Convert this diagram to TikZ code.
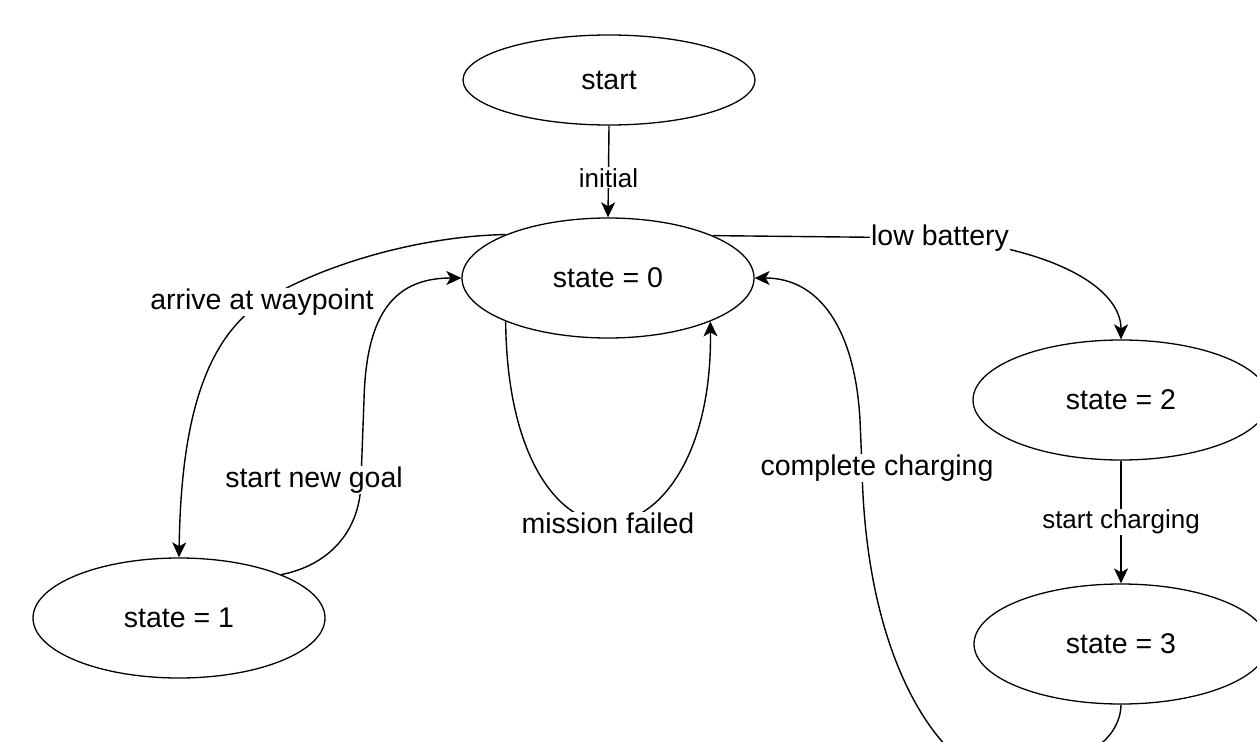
\documentclass[tikz,border=0pt]{standalone}
\usepackage{fontspec}
\setmainfont{Liberation Sans}
\usetikzlibrary{shapes.geometric,arrows.meta}
\tikzset{
  stnode/.style={draw, ellipse, line width=1.3pt, inner sep=0pt, minimum width=292pt, minimum height=120pt, font=\fontsize{28.5}{34}\selectfont},
  edge/.style={line width=1.4pt, -{Stealth[length=15pt,width=14pt,inset=4pt]}},
  lbl/.style={fill=white, inner sep=1pt, font=\fontsize{28.5}{34}\selectfont},
  slbl/.style={fill=white, inner sep=1pt, font=\fontsize{26}{30}\selectfont}
}
\begin{document}
\begin{tikzpicture}[x=1pt,y=-1pt]
\useasboundingbox (0,0) rectangle (1257,741);
\clip (0,0) rectangle (1257,741);
\fill[white] (0,0) rectangle (1257,741);

\node[stnode, minimum width=292pt, minimum height=90pt] (start) at (609,80) {start};
\node[stnode] (s0) at (608,278) {state = 0};
\node[stnode] (s1) at (179,618) {state = 1};
\node[stnode, minimum width=296pt] (s2) at (1121,400) {state = 2};
\node[stnode, minimum width=294pt] (s3) at (1121,644) {state = 3};

% initial
\draw[edge] (start.south) -- node[slbl, pos=0.57] {initial} (s0.north);

% arrive at waypoint
\draw[edge] (s0.157.8) .. controls (420,236) and (320,265) .. (262,302)
  node[lbl] {arrive at waypoint}
  .. controls (205,340) and (181,420) .. (s1.north);

% start new goal
\draw[edge] (s1.23.4) .. controls (330,565) and (361,530) .. (361,480)
  -- (364,400) .. controls (366,320) and (390,278) .. (s0.west);
\node[lbl] (lgoal) at (314,480) {start new goal};

% mission failed
\draw[edge] (s0.203.5) .. controls (507,460) and (560,523) .. (608,523)
  node[lbl] {mission failed}
  .. controls (656,523) and (712,460) .. (s0.337.1);

% low battery
\draw[edge] (s0.22.9) -- (940,238) node[lbl] {low battery}
  .. controls (1060,250) and (1121,290) .. (s2.north);

% start charging
\draw[edge] (s2.south) -- node[slbl, pos=0.5] {start charging} (s3.north);

% complete charging
\draw[edge] (s3.south) .. controls (1120,770) and (990,790) .. (950,750)
  .. controls (910,710) and (865,620) .. (862,468)
  -- (860,420) .. controls (855,330) and (820,278) .. (s0.east);
\node[lbl] (lcharge) at (877,468) {complete charging};
\end{tikzpicture}
\end{document}
